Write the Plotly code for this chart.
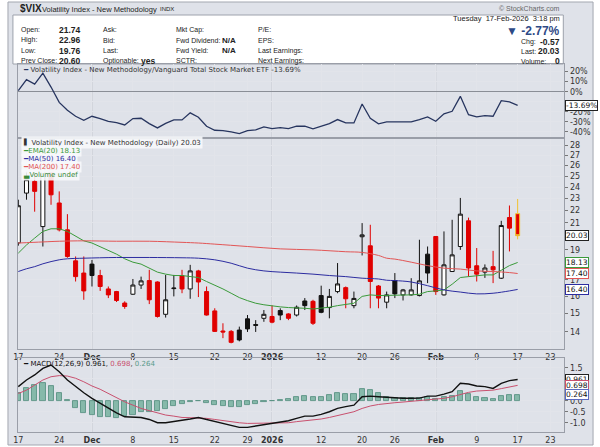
import numpy as np
import pandas as pd
import plotly.graph_objects as go

# trading days shown on the chart (market holidays removed)
holidays = ['2025-11-27', '2025-12-25', '2026-01-01', '2026-01-19', '2026-02-16']
calendar = [d.strftime('%Y-%m-%d') for d in pd.bdate_range('2025-11-17', '2026-02-27')
            if d.strftime('%Y-%m-%d') not in holidays]
pos = {d: i for i, d in enumerate(calendar)}
dates = calendar[:62]

# daily OHLC of $VIX
opens = [19.50, 23.47, 24.51, 20.72, 25.80, 22.62, 20.47, 18.24, 17.43, 18.02,
         17.27, 16.43, 16.27, 15.59, 16.11, 16.67, 16.95, 16.86, 14.95, 16.45,
         17.25, 16.43, 17.57, 16.27, 15.14, 14.05, 14.03, 14.10, 14.70, 14.39,
         14.73, 14.83, 15.16, 14.97, 14.91, 15.71, 15.69, 16.03, 15.33, 16.27,
         16.51, 15.44, 19.95, 19.29, 16.61, 15.64, 16.95, 16.07, 16.07, 16.03,
         18.70, 19.97, 16.07, 17.53, 19.24, 21.17, 17.91, 17.49, 17.85, 17.10,
         21.43, 21.74]
highs = [22.90, 25.50, 25.20, 28.27, 26.30, 23.62, 21.70, 18.54, 18.54, 18.30,
         17.64, 16.58, 16.31, 15.69, 17.05, 17.20, 17.64, 16.90, 17.31, 17.31,
         17.64, 17.97, 17.64, 16.58, 15.29, 14.46, 14.10, 14.28, 14.91, 14.63,
         15.19, 15.45, 15.29, 15.01, 15.45, 15.88, 15.78, 16.63, 16.43, 18.09,
         16.58, 16.27, 20.99, 20.86, 16.67, 16.27, 17.43, 16.43, 17.10, 19.73,
         19.24, 19.97, 20.35, 21.25, 23.05, 21.42, 19.13, 18.00, 18.93, 21.17,
         22.41, 22.96]
lows = [19.30, 22.90, 21.90, 19.24, 22.47, 20.35, 18.45, 16.89, 15.78, 16.58,
        16.31, 15.88, 15.65, 15.26, 16.07, 16.43, 15.53, 14.77, 14.77, 15.98,
        16.17, 15.84, 15.94, 14.88, 14.00, 13.68, 13.42, 13.52, 14.00, 14.00,
        14.54, 14.46, 14.63, 14.63, 14.83, 15.19, 14.37, 15.01, 14.73, 16.17,
        15.29, 15.29, 18.61, 15.29, 15.29, 15.29, 15.88, 15.74, 16.03, 15.98,
        16.79, 16.07, 16.03, 17.50, 19.00, 17.20, 16.89, 17.12, 16.79, 17.05,
        18.89, 19.76]
closes = [22.39, 24.67, 23.62, 26.42, 23.32, 20.47, 18.54, 17.20, 16.31, 17.27,
          16.58, 16.07, 15.74, 15.39, 16.67, 16.93, 15.78, 14.83, 15.78, 16.48,
          16.43, 17.57, 16.86, 14.91, 14.03, 14.00, 13.47, 13.59, 14.16, 14.35,
          14.95, 14.52, 14.91, 14.73, 15.35, 15.44, 14.46, 15.06, 15.98, 16.74,
          15.84, 15.86, 20.09, 16.89, 15.88, 16.07, 16.13, 16.37, 16.37, 16.93,
          17.43, 16.27, 17.97, 18.65, 21.70, 17.76, 17.36, 17.76, 17.64, 20.80,
          20.60, 20.03]

# moving averages
ema20 = [18.77, 19.35, 19.85, 20.35, 20.55, 20.55, 20.35, 19.97, 19.65, 19.49,
         19.24, 19.00, 18.70, 18.38, 18.15, 18.02, 17.75, 17.49, 17.36, 17.27,
         17.27, 17.20, 17.14, 16.89, 16.67, 16.43, 16.17, 15.91, 15.73, 15.58,
         15.49, 15.42, 15.37, 15.33, 15.33, 15.29, 15.25, 15.29, 15.35, 15.44,
         15.53, 15.58, 15.98, 16.07, 16.03, 16.03, 16.03, 16.07, 16.07, 16.11,
         16.27, 16.31, 16.37, 16.72, 17.14, 17.20, 17.25, 17.31, 17.31, 17.64,
         17.92, 18.13]
ma50_days = [0, 1, 2, 3, 4, 5, 6, 8, 12, 16, 20, 22, 24, 26, 28, 30, 32, 34, 36,
             38, 40, 42, 44, 45, 46, 48, 50, 52, 54, 56, 58, 60, 61]
ma50_vals = [17.53, 17.71, 17.85, 18.04, 18.19, 18.31, 18.38, 18.42, 18.47, 18.47,
             18.45, 18.42, 18.31, 18.08, 17.75, 17.57, 17.49, 17.43, 17.36, 17.27,
             17.20, 17.10, 17.05, 16.97, 16.95, 16.86, 16.63, 16.37, 16.24, 16.13,
             16.17, 16.31, 16.40]
ma200_days = [0, 3, 5, 8, 12, 16, 20, 22, 24, 28, 32, 36, 40, 42, 44, 45, 46, 48,
              50, 52, 54, 56, 58, 60, 61]
ma200_vals = [19.49, 19.57, 19.62, 19.65, 19.62, 19.62, 19.54, 19.49, 19.41, 19.24,
              19.07, 19.00, 18.87, 18.82, 18.61, 18.42, 18.36, 18.15, 17.92, 17.75,
              17.69, 17.57, 17.53, 17.46, 17.40]

# $VIX relative to VTI, percent
rel_pct = [1.0, 12.0, 7.6, 18.5, 4.6, -10.6, -18.5, -24.4, -28.4, -24.4,
           -26.7, -29.4, -30.7, -33.0, -26.7, -26.4, -31.7, -36.0, -31.4, -28.0,
           -28.0, -21.0, -25.4, -34.3, -38.3, -38.6, -40.0, -41.6, -38.6, -38.0,
           -35.0, -36.6, -35.6, -36.6, -34.3, -34.3, -37.0, -34.3, -31.7, -27.7,
           -31.0, -31.0, -12.2, -26.4, -32.0, -30.0, -30.0, -30.0, -30.0, -27.7,
           -25.0, -29.4, -22.0, -19.5, -4.6, -22.8, -25.0, -23.8, -24.4, -8.9,
           -10.2, -13.69]

# MACD(12,26,9)
macd = [0.64, 0.94, 1.17, 1.47, 1.62, 1.32, 0.94, 0.64, 0.36, 0.11,
        -0.12, -0.35, -0.55, -0.73, -0.76, -0.76, -0.85, -1.00, -1.00, -0.95,
        -0.91, -0.83, -0.76, -0.85, -0.95, -1.06, -1.15, -1.21, -1.21, -1.15,
        -1.06, -1.03, -0.95, -0.91, -0.80, -0.70, -0.70, -0.62, -0.50, -0.35,
        -0.27, -0.20, 0.18, 0.21, 0.18, 0.15, 0.11, 0.11, 0.11, 0.12,
        0.21, 0.21, 0.30, 0.41, 0.79, 0.76, 0.67, 0.64, 0.56, 0.79,
        0.91, 0.961]
signal = [0.33, 0.48, 0.71, 0.94, 1.09, 1.14, 1.12, 1.02, 0.86, 0.67,
          0.52, 0.33, 0.15, -0.05, -0.20, -0.35, -0.45, -0.55, -0.65, -0.70,
          -0.76, -0.77, -0.77, -0.80, -0.85, -0.91, -0.95, -1.00, -1.03, -1.03,
          -1.03, -1.03, -1.00, -1.00, -0.95, -0.92, -0.88, -0.83, -0.76, -0.68,
          -0.61, -0.50, -0.35, -0.24, -0.17, -0.12, -0.09, -0.06, -0.03, 0.00,
          0.03, 0.06, 0.11, 0.18, 0.29, 0.38, 0.44, 0.45, 0.48, 0.55,
          0.61, 0.698]
hist = [0.33, 0.56, 0.71, 0.82, 0.67, 0.36, 0.02, -0.35, -0.55, -0.65,
        -0.73, -0.76, -0.77, -0.70, -0.65, -0.50, -0.50, -0.45, -0.38, -0.24,
        -0.15, -0.05, -0.02, -0.12, -0.20, -0.24, -0.27, -0.27, -0.21, -0.17,
        -0.06, -0.03, 0.03, 0.06, 0.15, 0.21, 0.15, 0.18, 0.26, 0.33,
        0.30, 0.29, 0.52, 0.48, 0.33, 0.18, 0.11, 0.11, 0.11, 0.14,
        0.15, 0.09, 0.15, 0.21, 0.45, 0.30, 0.15, 0.11, 0.06, 0.21,
        0.26, 0.264]

tick_dates = ['2025-11-17', '2025-11-24', '2025-12-01', '2025-12-08', '2025-12-15',
              '2025-12-22', '2025-12-29', '2026-01-02', '2026-01-12', '2026-01-20',
              '2026-01-26', '2026-02-02', '2026-02-09', '2026-02-17', '2026-02-23']
tick_text = ['17', '24', '<b>Dec</b>', '8', '15', '22', '29', '<b>2026</b>', '12', '20',
             '26', '<b>Feb</b>', '9', '17', '23']
month_starts = ['2025-12-01', '2026-01-02', '2026-02-02']

# right-axis ticks (labels sitting under a value tag are left blank, as on the chart)
price_ticks = list(range(14, 29))
price_labels = ['' if v in (18, 20) else str(v) for v in price_ticks]
rel_ticks = [20, 10, 0, -10, -20, -30, -40]
rel_labels = ['20%', '10%', '0%', '', '-20%', '-30%', '-40%']
macd_ticks = [1.5, 1.0, 0.5, 0.0, -0.5, -1.0]
macd_labels = ['1.5', '', '', '0.0', '-0.5', '-1.0']

W, H = 600, 447
def px(x): return x / W
def py(y): return 1 - y / H

x = [pos[d] for d in dates]
tickvals = [pos[d] for d in tick_dates]

# StockCharts colouring: black when close >= prior close, red otherwise
up_day = [True] + [closes[i] >= closes[i - 1] for i in range(1, len(closes))]
last = len(dates) - 1

def candles(flag, color):
    idx = [i for i in range(len(x)) if up_day[i] == flag and i != last]
    return go.Candlestick(
        x=[x[i] for i in idx], open=[opens[i] for i in idx], high=[highs[i] for i in idx],
        low=[lows[i] for i in idx], close=[closes[i] for i in idx],
        increasing=dict(line=dict(color=color, width=1), fillcolor='white'),
        decreasing=dict(line=dict(color=color, width=1), fillcolor=color),
        xaxis='x', yaxis='y', showlegend=False, hoverinfo='skip')

fig = go.Figure()
fig.add_trace(candles(True, '#111111'))
fig.add_trace(candles(False, '#e00000'))
fig.add_trace(go.Candlestick(
    x=[x[last]], open=[opens[last]], high=[highs[last]], low=[lows[last]], close=[closes[last]],
    increasing=dict(line=dict(color='#f2c230', width=1), fillcolor='#e00000'),
    decreasing=dict(line=dict(color='#f2c230', width=1), fillcolor='#e00000'),
    xaxis='x', yaxis='y', showlegend=False, hoverinfo='skip'))

fig.add_trace(go.Scatter(x=x, y=ema20, mode='lines', line=dict(color='#3a9a3a', width=1),
                         xaxis='x', yaxis='y', showlegend=False))
fig.add_trace(go.Scatter(x=[x[i] for i in ma50_days], y=ma50_vals, mode='lines',
                         line=dict(color='#2c2ca0', width=1, shape='spline'),
                         xaxis='x', yaxis='y', showlegend=False))
fig.add_trace(go.Scatter(x=[x[i] for i in ma200_days], y=ma200_vals, mode='lines',
                         line=dict(color='#e25555', width=1, shape='spline'),
                         xaxis='x', yaxis='y', showlegend=False))

# relative strength panel
fig.add_trace(go.Scatter(x=x, y=rel_pct, mode='lines', line=dict(color='#27355f', width=1.3),
                         xaxis='x2', yaxis='y2', showlegend=False))

# MACD panel
fig.add_trace(go.Bar(x=x, y=hist, width=0.62, marker=dict(color='#86b9aa', line=dict(color='#4f8c7c', width=0.8)),
                     xaxis='x3', yaxis='y3', showlegend=False))
fig.add_trace(go.Scatter(x=x, y=signal, mode='lines', line=dict(color='#c8506e', width=1),
                         xaxis='x3', yaxis='y3', showlegend=False))
fig.add_trace(go.Scatter(x=x, y=macd, mode='lines', line=dict(color='#111111', width=1.4),
                         xaxis='x3', yaxis='y3', showlegend=False))

xr = [-0.05, 66.7]
xdom = [px(13), px(564)]
grid = '#e2e4ea'
frame = '#9a9ea8'
tickfont = dict(family='DejaVu Sans', size=8, color='#333')
xcommon = dict(range=xr, domain=xdom, tickvals=tickvals, ticktext=tick_text, showgrid=True,
               gridcolor=grid, zeroline=False, showline=True, mirror=True, linecolor=frame,
               tickfont=tickfont, ticks='', fixedrange=True)
ycommon = dict(side='right', gridcolor=grid, showline=True, mirror=True, linecolor=frame,
               tickfont=tickfont, ticks='outside', ticklen=3, tickcolor='#777', fixedrange=True)

fig.update_layout(
    width=W, height=H, margin=dict(l=0, r=0, t=0, b=0),
    paper_bgcolor='white', plot_bgcolor='#f7f8fb', bargap=0,
    xaxis=dict(xcommon, anchor='y', showticklabels=True, rangeslider=dict(visible=False)),
    yaxis=dict(ycommon, type='log', domain=[py(349), py(139)],
               range=[np.log10(13.14), np.log10(28.7)],
               tickvals=price_ticks, ticktext=price_labels, anchor='x'),
    xaxis2=dict(xcommon, anchor='y2', showticklabels=False),
    yaxis2=dict(ycommon, domain=[py(137), py(64)], range=[-45, 27.5],
                tickvals=rel_ticks, ticktext=rel_labels,
                zeroline=True, zerolinecolor='#8a8e96', zerolinewidth=1, anchor='x2'),
    xaxis3=dict(xcommon, anchor='y3', showticklabels=True),
    yaxis3=dict(ycommon, domain=[py(432), py(358)], range=[-1.42, 1.94],
                tickvals=macd_ticks, ticktext=macd_labels, zeroline=False, anchor='x3'),
)

shapes = [
    # outer frame and header box
    dict(type='rect', xref='paper', yref='paper', x0=px(3), x1=px(593), y0=py(445), y1=py(2),
         fillcolor='#dfe2e9', line=dict(color='#a3a7b0', width=1), layer='below'),
    dict(type='rect', xref='paper', yref='paper', x0=px(8), x1=px(563), y0=py(64), y1=py(15),
         fillcolor='white', line=dict(color='#9da2ac', width=1), layer='below'),
]
for xa, ya in [('x', 'y'), ('x2', 'y2'), ('x3', 'y3')]:
    for d in month_starts:
        shapes.append(dict(type='line', xref=xa, yref=ya + ' domain', x0=pos[d], x1=pos[d], y0=0, y1=1,
                           line=dict(color='#c3c6ce', width=1), layer='below'))
fig.update_layout(shapes=shapes)

ann = []
def text(xp, yp, s, size=7, color='#222', anchor='left', family='Liberation Sans', bold=False, **kw):
    ann.append(dict(xref='paper', yref='paper', x=px(xp), y=py(yp), xanchor=anchor, yanchor='middle',
                    text=('<b>%s</b>' % s) if bold else s, showarrow=False,
                    font=dict(size=size, color=color, family=family), **kw))

# header
text(13, 9, '$VIX', size=10, bold=True)
text(35, 9.5, 'Volatility Index - New Methodology', size=7.5)
text(154, 9.5, 'INDX', size=6)
text(562, 8, '\u00a9 StockCharts.com', size=7, color='#666', anchor='right')
rows = [29.5, 40, 50.5, 60.5]
for y, lab, val in zip(rows, ['Open:', 'High:', 'Low:', 'Prev Close:'], ['21.74', '22.96', '19.76', '20.60']):
    text(14, y, lab)
    text(79, y, val, size=8.5, bold=True, anchor='right')
for y, lab in zip(rows, ['Ask:', 'Bid:', 'Last:', 'Optionable:']):
    text(97, y, lab)
text(135, rows[3], 'yes', size=8.5, bold=True)
for y, lab in zip(rows, ['Mkt Cap:', 'Fwd Dividend:', 'Fwd Yield:', 'SCTR:']):
    text(170, y, lab)
text(235, rows[1], 'N/A', size=8, bold=True, anchor='right')
text(235, rows[2], 'N/A', size=8, bold=True, anchor='right')
for y, lab in zip(rows, ['P/E:', 'EPS:', 'Last Earnings:', 'Next Earnings:']):
    text(253, y, lab)
text(562, 18.5, 'Tuesday  17-Feb-2026  3:18 pm', size=7.5, anchor='right')
text(562, 31, '\u25bc -2.77%', size=12, bold=True, color='#2e4a86', anchor='right')
text(518, 42, 'Chg:')
text(562, 42, '-0.57', size=8.5, bold=True, anchor='right')
text(518, 51.5, 'Last:')
text(562, 51.5, '20.03', size=8.5, bold=True, anchor='right')
text(518, 61, 'Volume:')
text(562, 61, '0', size=8.5, bold=True, anchor='right')

# panel legends
mono = 'DejaVu Sans'
lbg = 'rgba(247,248,251,0.9)'
text(16, 70.5, '<span style="color:#27355f">\u2501</span> Volatility Index - New Methodology/Vanguard Total Stock Market ETF -13.69%',
     size=7, family=mono, color='#333')
text(16, 142, '\u258c Volatility Index - New Methodology (Daily) 20.03', size=7, family=mono, color='#333', bgcolor=lbg)
text(16, 150.5, '\u2501EMA(20) 18.13', size=7, family=mono, color='#3a9a3a', bgcolor=lbg)
text(16, 158.5, '\u2501MA(50) 16.40', size=7, family=mono, color='#2c2ca0', bgcolor=lbg)
text(16, 166.5, '\u2501MA(200) 17.40', size=7, family=mono, color='#e25555', bgcolor=lbg)
text(16, 174.5, '\u2583Volume undef', size=7, family=mono, color='#3a8a3a', bgcolor=lbg)
text(16, 364, '\u2501 MACD(12,26,9) 0.961, <span style="color:#c8506e">0.698</span>, '
     '<span style="color:#5a9a8a">0.264</span>', size=7, family=mono, color='#111')

# value tags on the right axes
def tag(yref, yval, s, color):
    ann.append(dict(xref='paper', yref=yref, x=px(565), y=yval, xanchor='left', yanchor='middle',
                    text=s, showarrow=False, bgcolor='white', bordercolor=color, borderwidth=1,
                    borderpad=0, font=dict(size=7.5, color='#111', family='DejaVu Sans')))

tag('y', np.log10(closes[-1]), '%.2f' % closes[-1], '#222')
tag('y', np.log10(ema20[-1]), '%.2f' % ema20[-1], '#3a9a3a')
tag('y', np.log10(ma200_vals[-1]), '%.2f' % ma200_vals[-1], '#e25555')
tag('y', np.log10(ma50_vals[-1]), '%.2f' % ma50_vals[-1], '#2c2ca0')
tag('y2', rel_pct[-1], '%.2f%%' % rel_pct[-1], '#222')
tag('y3', macd[-1], '%.3f' % macd[-1], '#222')
tag('y3', signal[-1], '%.3f' % signal[-1], '#c8506e')
tag('y3', hist[-1], '%.3f' % hist[-1], '#5a6ac0')

fig.update_layout(annotations=ann)
fig.write_html("out.html", config={'displayModeBar': False},
               post_script="document.body.style.margin='0';")
